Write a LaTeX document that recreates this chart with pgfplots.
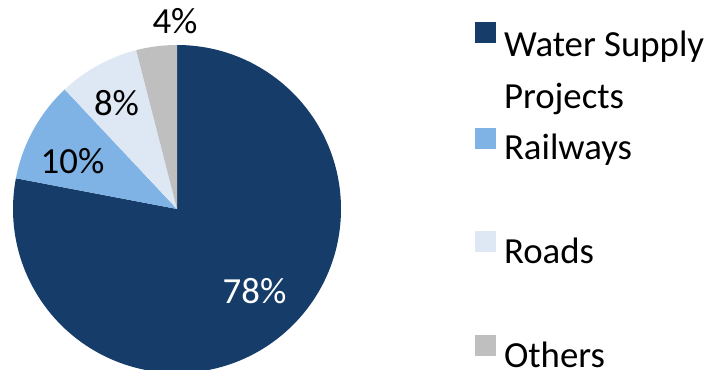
\documentclass[border=0pt]{standalone}
\usepackage{pgfplots}
\usepackage{pgfplotstable}
\pgfplotsset{compat=1.18}
\usepackage{fontspec}
\setmainfont{Carlito}
\definecolor{cWater}{RGB}{22,61,106}
\definecolor{cRail}{RGB}{127,178,229}
\definecolor{cRoad}{RGB}{222,232,244}
\definecolor{cOther}{RGB}{191,191,191}

\pgfplotstableread{
category share
Water 78
Railways 10
Roads 8
Others 4
}\piedata

\newcommand{\bigfont}{\fontsize{36.8bp}{52bp}\selectfont}

\begin{document}
\begin{tikzpicture}
\pgfplotstablegetelem{0}{share}\of\piedata \let\sA\pgfplotsretval
\pgfplotstablegetelem{1}{share}\of\piedata \let\sB\pgfplotsretval
\pgfplotstablegetelem{2}{share}\of\piedata \let\sC\pgfplotsretval
\pgfplotstablegetelem{3}{share}\of\piedata \let\sD\pgfplotsretval
\pgfmathsetmacro\aA{90}
\pgfmathsetmacro\aB{\aA-3.6*\sA}
\pgfmathsetmacro\aC{\aB-3.6*\sB}
\pgfmathsetmacro\aD{\aC-3.6*\sC}
\pgfmathsetmacro\aE{\aD-3.6*\sD}
\begin{axis}[
  scale only axis, width=712bp, height=370bp,
  xmin=0, xmax=712, ymin=0, ymax=370,
  hide axis,
  legend cell align=left,
  legend style={draw=none, fill=none, inner sep=0pt, outer sep=0pt,
    at={(axis cs:475,339)}, anchor=north west,
    row sep=0pt, column sep=8bp, font=\bigfont,
    nodes={inner sep=0pt, outer sep=0pt, text height=25bp, text depth=78.7bp}},
]
\path (axis cs:0,0) rectangle (axis cs:712,370);
\fill[cWater] (axis cs:177,161) -- ++(\aA:164bp) arc[start angle=\aA, end angle=\aB, radius=164bp] -- cycle;
\fill[cRail] (axis cs:177,161) -- ++(\aB:164bp) arc[start angle=\aB, end angle=\aC, radius=164bp] -- cycle;
\fill[cRoad] (axis cs:177,161) -- ++(\aC:164bp) arc[start angle=\aC, end angle=\aD, radius=164bp] -- cycle;
\fill[cOther] (axis cs:177,161) -- ++(\aD:164bp) arc[start angle=\aD, end angle=\aE, radius=164bp] -- cycle;
\node[anchor=base, white, font=\bigfont, inner sep=0pt] at (axis cs:254.5,67) {\sA\%};
\node[anchor=base, black, font=\bigfont, inner sep=0pt] at (axis cs:72.5,197) {\sB\%};
\node[anchor=base, black, font=\bigfont, inner sep=0pt] at (axis cs:116.5,255) {\sC\%};
\node[anchor=base, black, font=\bigfont, inner sep=0pt] at (axis cs:175,337) {\sD\%};
\addlegendimage{legend image code/.code={\path[draw=none, fill=none] (0bp,0bp) -- (21bp,0bp); \fill[cWater, draw=none, overlay] (0bp,40bp) rectangle (21bp,61bp);}}
\addlegendentry{\begin{tabular}[t]{@{}l@{}}Water Supply\\Projects\end{tabular}}
\addlegendimage{legend image code/.code={\path[draw=none, fill=none] (0bp,0bp) -- (21bp,0bp); \fill[cRail, draw=none, overlay] (0bp,38bp) rectangle (21bp,59bp);}}
\addlegendentry{Railways}
\addlegendimage{legend image code/.code={\path[draw=none, fill=none] (0bp,0bp) -- (21bp,0bp); \fill[cRoad, draw=none, overlay] (0bp,38bp) rectangle (21bp,59bp);}}
\addlegendentry{Roads}
\addlegendimage{legend image code/.code={\path[draw=none, fill=none] (0bp,0bp) -- (21bp,0bp); \fill[cOther, draw=none, overlay] (0bp,38bp) rectangle (21bp,59bp);}}
\addlegendentry{Others}
\end{axis}
\pgfresetboundingbox
\path (current axis.south west) rectangle (current axis.north east);
\end{tikzpicture}
\end{document}
